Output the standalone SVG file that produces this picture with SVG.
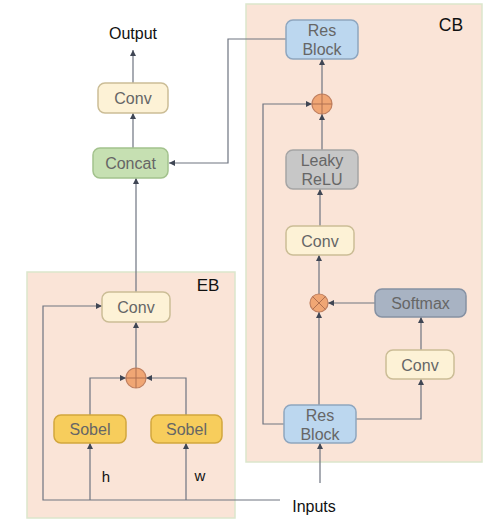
<svg xmlns="http://www.w3.org/2000/svg" width="487" height="527" viewBox="0 0 487 527">
<defs>
<style>
.panel{fill:#fae4d7;stroke:#dbe6cc;stroke-width:1.5}
.node{stroke-width:1.5}
.t{font-family:"Liberation Sans",Arial,sans-serif;font-size:16px;fill:#666;text-anchor:middle}
.lbl{font-family:"Liberation Sans",Arial,sans-serif;font-size:16px;fill:#111;text-anchor:middle}
.conv{fill:#fdf2d6;stroke:#cbbd96}
.concat{fill:#c6e0b2;stroke:#a3c28d}
.res{fill:#bcd7ef;stroke:#8ea6bf}
.leaky{fill:#c7c7c7;stroke:#a5a5a5}
.soft{fill:#a8b3c3;stroke:#8591a3}
.sobel{fill:#f7cd5c;stroke:#d2a63c}
.op{fill:#f0a674;stroke:#c08060;stroke-width:1.2}
.c{fill:none;stroke:#6e7480;stroke-width:1.2}
</style>
<marker id="ah" viewBox="0 0 10 10" refX="10" refY="5" markerWidth="6" markerHeight="6" orient="auto-start-reverse" markerUnits="userSpaceOnUse">
<path d="M0,0 L10,5 L0,10 z" fill="#3f4654"/>
</marker>
</defs>
<rect width="487" height="527" fill="#ffffff"/>
<g id="panel-cb"><rect class="panel" x="246" y="4" width="236" height="458"/><text class="lbl" x="451" y="31" style="font-size:17.5px">CB</text></g>
<g id="panel-eb"><rect class="panel" x="27" y="272" width="208" height="246"/><text class="lbl" x="208" y="291" style="font-size:17px">EB</text></g>

<g id="connectors">
<path class="c" d="M133,83 V50" marker-end="url(#ah)"/>
<path class="c" d="M133,148 V113" marker-end="url(#ah)"/>
<path class="c" d="M136,292 V178" marker-end="url(#ah)"/>
<path class="c" d="M286,39 H228 V163 H169" marker-end="url(#ah)"/>
<path class="c" d="M322,94 V59" marker-end="url(#ah)"/>
<path class="c" d="M322,150 V114" marker-end="url(#ah)"/>
<path class="c" d="M320,226 V189" marker-end="url(#ah)"/>
<path class="c" d="M319,294 V255" marker-end="url(#ah)"/>
<path class="c" d="M319,405 V312" marker-end="url(#ah)"/>
<path class="c" d="M375,303 H328" marker-end="url(#ah)"/>
<path class="c" d="M421,350 V317" marker-end="url(#ah)"/>
<path class="c" d="M356,419 H421 V379" marker-end="url(#ah)"/>
<path class="c" d="M284,424 H263 V104 H312" marker-end="url(#ah)"/>
<path class="c" d="M320,483 V443" marker-end="url(#ah)"/>
<path class="c" d="M280,500 H43 V306 H102" marker-end="url(#ah)"/>
<path class="c" d="M90,500 V443" marker-end="url(#ah)"/>
<path class="c" d="M186,500 V443" marker-end="url(#ah)"/>
<path class="c" d="M90,415 V378 H126" marker-end="url(#ah)"/>
<path class="c" d="M186,415 V378 H146" marker-end="url(#ah)"/>
<path class="c" d="M136,368 V322" marker-end="url(#ah)"/>
</g>

<g id="output"><text class="lbl" x="133" y="39">Output</text></g>
<g id="inputs"><text class="lbl" x="314" y="512">Inputs</text></g>
<g id="label-h"><text class="lbl" x="106" y="482" style="font-size:15px">h</text></g>
<g id="label-w"><text class="lbl" x="200" y="481" style="font-size:15px">w</text></g>

<g id="conv-out"><rect class="node conv" x="98" y="83" width="70" height="30" rx="7"/><text class="t" x="133" y="104">Conv</text></g>
<g id="concat"><rect class="node concat" x="93" y="148" width="75" height="30" rx="7"/><text class="t" x="130.5" y="169">Concat</text></g>
<g id="resblock-top"><rect class="node res" x="286" y="20" width="72" height="39" rx="7"/><text class="t" x="322" y="36">Res</text><text class="t" x="322" y="55">Block</text></g>
<g id="add-cb"><circle class="op" cx="322" cy="104" r="10"/><path d="M312,104 H332 M322,94 V114" stroke="#b07050" stroke-width="1"/></g>
<g id="leaky"><rect class="node leaky" x="286" y="150" width="72" height="39" rx="7"/><text class="t" x="322" y="166">Leaky</text><text class="t" x="322" y="185">ReLU</text></g>
<g id="conv-cb"><rect class="node conv" x="286" y="226" width="68" height="29" rx="7"/><text class="t" x="320" y="246.5">Conv</text></g>
<g id="mul"><circle class="op" cx="319" cy="303" r="9"/><path d="M312.6,296.6 L325.4,309.4 M325.4,296.6 L312.6,309.4" stroke="#b07050" stroke-width="1"/></g>
<g id="softmax"><rect class="node soft" x="375" y="289" width="91" height="28" rx="7"/><text class="t" x="420.5" y="308.5">Softmax</text></g>
<g id="conv-side"><rect class="node conv" x="386" y="350" width="68" height="29" rx="7"/><text class="t" x="420" y="370.5">Conv</text></g>
<g id="resblock-bottom"><rect class="node res" x="284" y="405" width="72" height="38" rx="7"/><text class="t" x="320" y="421">Res</text><text class="t" x="320" y="440">Block</text></g>
<g id="conv-eb"><rect class="node conv" x="102" y="292" width="68" height="30" rx="7"/><text class="t" x="136" y="313">Conv</text></g>
<g id="add-eb"><circle class="op" cx="136" cy="378" r="10"/><path d="M126,378 H146 M136,368 V388" stroke="#b07050" stroke-width="1"/></g>
<g id="sobel-h"><rect class="node sobel" x="54" y="415" width="72" height="28" rx="7"/><text class="t" x="90" y="434.5">Sobel</text></g>
<g id="sobel-w"><rect class="node sobel" x="151" y="415" width="71" height="28" rx="7"/><text class="t" x="186.5" y="434.5">Sobel</text></g>
</svg>
